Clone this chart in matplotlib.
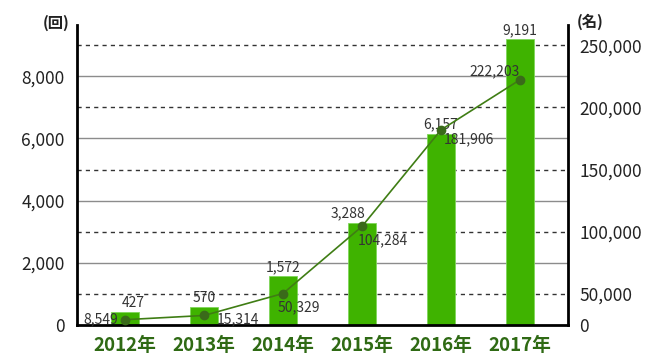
import numpy as np
import matplotlib
matplotlib.use("Agg")
import matplotlib.pyplot as plt
from matplotlib.ticker import FuncFormatter

plt.rcParams['font.family'] = ['Noto Sans CJK JP', 'DejaVu Sans']

# ---- data ----
years = ["2012年", "2013年", "2014年", "2015年", "2016年", "2017年"]
sessions = [427, 570, 1572, 3288, 6157, 9191]          # 回 (bars, left axis)
participants = [8549, 15314, 50329, 104284, 181906, 222203]  # 名 (line, right axis)
left_ticks = [0, 2000, 4000, 6000, 8000]
right_ticks = [0, 50000, 100000, 150000, 200000, 250000]

# ---- styling / label offsets (points) ----
bar_lbl_dx = [6, 0, 0, -10, 0, 0]
line_lbl = [(-5, 0, 'right'), (9, -3, 'left'), (-3.6, -10, 'left'),
            (-3, -10, 'left'), (2, -6.5, 'left'), (0, 6, 'right')]

BAR = '#3fb300'
LINE = '#3f7d14'
MARK = '#3a6a1a'
TXT = '#333333'
XLBL = '#2f6a14'

fig = plt.figure(figsize=(6.64, 3.63), dpi=100)
ax = fig.add_axes([77/664, 1-325/363, (568-77)/664, 300/363])
x = np.arange(len(years))

LTOP = 9650
ax.set_ylim(0, LTOP)
ax.set_xlim(-0.608, len(years) - 1 + 0.608)

# gridlines
for v in [2000, 4000, 6000, 8000]:
    ax.axhline(v, color='#8c8c8c', lw=1.0, zorder=0)
for v in [1000, 3000, 5000, 7000, 9000]:
    ax.axhline(v, color='#333333', lw=1.0, ls=(0, (3, 3)), zorder=0)

ax.bar(x, sessions, width=0.354, color=BAR, edgecolor='#7fd65a', linewidth=0.6, zorder=2)
for i, v in enumerate(sessions):
    ax.annotate(f"{v:,}", (x[i], v), xytext=(bar_lbl_dx[i], 1.5),
                textcoords='offset points', ha='center', va='bottom',
                fontsize=10, color=TXT, zorder=5)

ax.set_yticks(left_ticks)
ax.yaxis.set_major_formatter(FuncFormatter(lambda v, p: f"{int(v):,}"))
ax.set_xticks(x)
ax.set_xticklabels(years, fontsize=13.5, fontweight='bold', color=XLBL)
ax.tick_params(axis='y', length=0, labelsize=12.5, pad=9, labelcolor='#222222')
ax.tick_params(axis='x', length=0, pad=8)

for s in ['left', 'bottom']:
    ax.spines[s].set_linewidth(2)
    ax.spines[s].set_color('black')
ax.spines['top'].set_visible(False)
ax.spines['right'].set_visible(False)

# right axis: 0-50,000 occupies the first band, then 50,000 per grid band
def fwd(v):
    v = np.asarray(v, dtype=float)
    return np.where(v <= 50000, v / 50.0, 1000 + (v - 50000) / 25.0)

def inv(u):
    u = np.asarray(u, dtype=float)
    return np.where(u <= 1000, u * 50.0, 50000 + (u - 1000) * 25.0)

ax2 = ax.twinx()
ax2.set_yscale('function', functions=(fwd, inv))
ax2.set_ylim(0, float(inv(LTOP)))
ax2.set_yticks(right_ticks)
ax2.yaxis.set_major_formatter(FuncFormatter(lambda v, p: f"{int(round(v)):,}"))
ax2.tick_params(axis='y', length=0, labelsize=12.5, pad=8, labelcolor='#222222')
ax2.minorticks_off()
for s in ['left', 'bottom', 'top']:
    ax2.spines[s].set_visible(False)
ax2.spines['right'].set_linewidth(2)
ax2.spines['right'].set_color('black')

ax2.plot(x, participants, color=LINE, lw=1.2, marker='o', markersize=6,
         markerfacecolor=MARK, markeredgecolor=MARK, zorder=4)
for i, v in enumerate(participants):
    dx, dy, ha = line_lbl[i]
    ax2.annotate(f"{v:,}", (x[i], v), xytext=(dx, dy),
                 textcoords='offset points', ha=ha, va='center',
                 fontsize=10, color=TXT, zorder=6)

fig.text(56/664, 1-23/363, "(回)", ha='center', va='center', fontsize=11,
         fontweight='bold', color='#222222')
fig.text(590/664, 1-22/363, "(名)", ha='center', va='center', fontsize=11,
         fontweight='bold', color='#222222')

fig.savefig("out.png", dpi=100)
